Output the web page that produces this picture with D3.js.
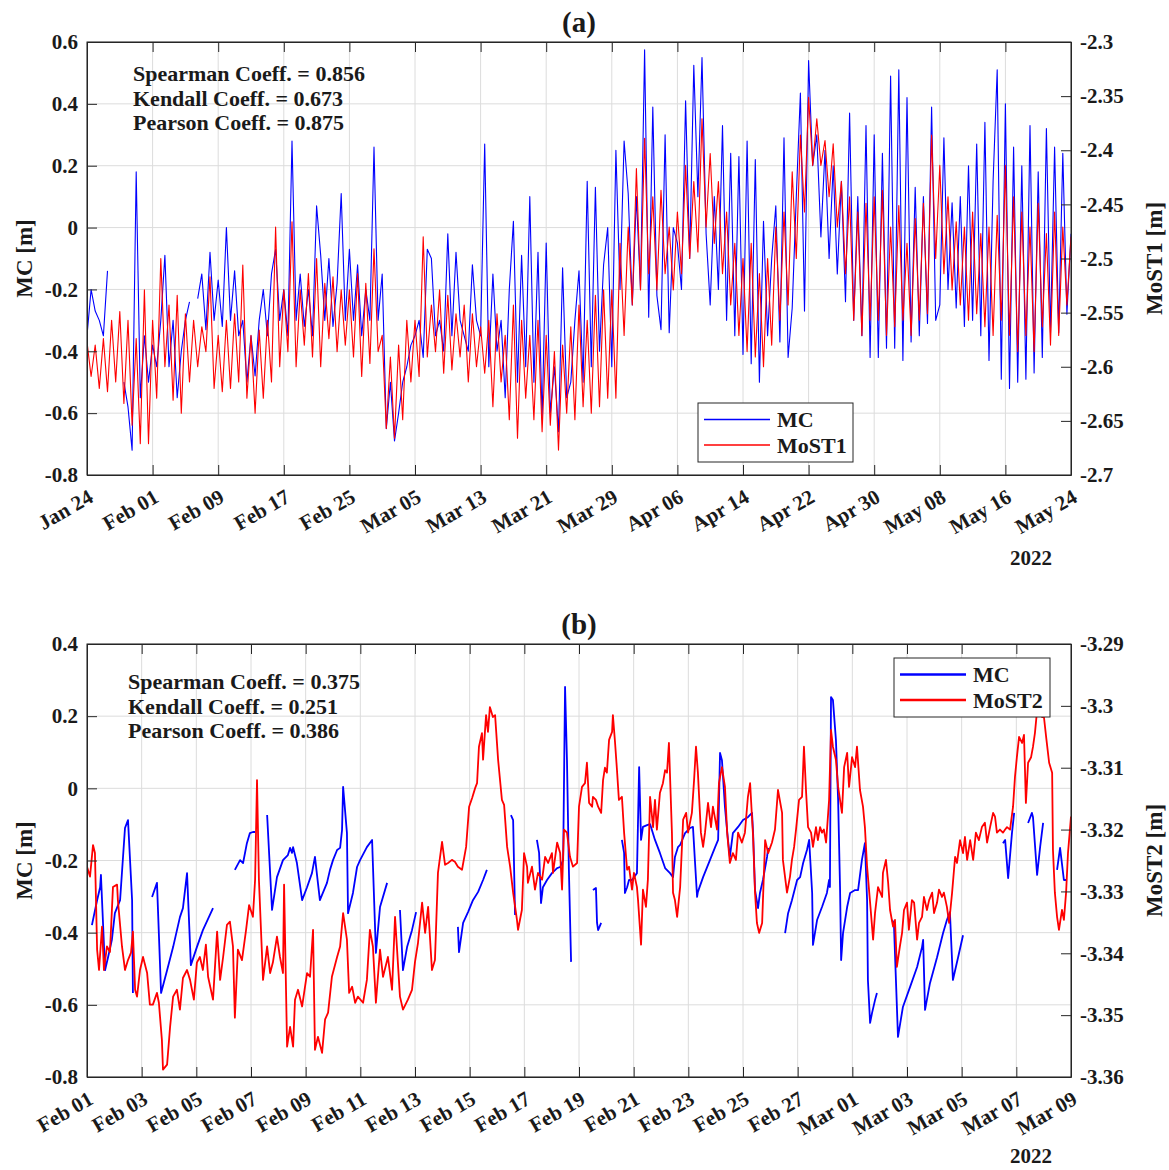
<!DOCTYPE html>
<html>
<head>
<meta charset="utf-8">
<style>
  body { margin: 0; background: #fff; }
  svg { font-family: "Liberation Serif", "Times New Roman", serif; font-weight: bold; }
  .grid line { stroke: #dcdcdc; stroke-width: 1; }
  .axis path, .axis line { stroke: #262626; }
  .axis text { fill: #1a1a1a; font-size: 21px; font-family: "Liberation Serif", serif; font-weight: bold; }
  .lbl { fill: #1a1a1a; }
</style>
</head>
<body>
<svg id="chart" width="1169" height="1170"></svg>
<script src="https://d3js.org/d3.v7.min.js"></script>
<script>
// ---- panel (a): half-day samples starting Jan 24 2022 ----
var startA = "2022-01-24", endA = "2022-05-24";
var stepA = 12; // hours between samples

var mcA = [
  -0.35,-0.2,-0.27,-0.3,-0.35,-0.14,null,null,null,-0.5,-0.58,-0.72,0.18,-0.55,-0.35,-0.5,
  -0.38,-0.45,-0.3,-0.09,-0.45,-0.3,-0.55,-0.4,-0.3,-0.24,null,-0.23,-0.15,-0.33,-0.08,-0.3,
  -0.17,-0.32,0.0,-0.3,-0.14,-0.35,-0.3,-0.5,-0.35,-0.48,-0.3,-0.2,-0.35,-0.15,-0.07,-0.3,
  -0.2,-0.35,0.28,-0.3,-0.15,-0.32,-0.2,-0.35,0.07,-0.09,-0.3,-0.1,-0.32,-0.18,0.11,-0.3,
  -0.07,-0.3,-0.12,-0.35,-0.2,-0.3,0.26,-0.3,-0.15,-0.65,-0.5,-0.69,-0.6,-0.5,-0.45,-0.38,
  -0.35,-0.3,-0.42,-0.07,-0.1,-0.35,-0.3,-0.4,-0.02,-0.35,-0.08,-0.3,-0.35,-0.4,-0.12,-0.3,
  -0.35,0.27,-0.45,-0.15,-0.4,-0.3,-0.55,-0.2,0.02,-0.5,-0.09,-0.45,0.1,-0.5,-0.08,-0.62,
  -0.05,-0.6,-0.45,-0.66,-0.13,-0.55,-0.5,-0.3,-0.14,-0.5,0.15,-0.45,0.13,-0.4,-0.12,0.0,
  -0.45,0.25,-0.2,0.28,0.11,-0.25,0.1,-0.2,0.575,-0.29,0.39,-0.22,-0.33,0.3,-0.34,0.0,
  -0.05,-0.2,0.41,-0.1,0.525,0.1,0.55,-0.02,-0.25,0.1,-0.2,0.33,-0.3,0.24,-0.35,0.23,
  -0.41,0.28,-0.44,0.22,-0.5,0.02,-0.35,-0.1,0.07,-0.37,0.29,-0.42,-0.26,0.1,0.435,-0.27,
  0.54,0.2,0.3,-0.03,0.25,-0.1,0.2,-0.15,0.15,-0.24,0.37,-0.3,0.1,-0.35,0.33,-0.42,
  0.3,-0.42,0.24,-0.39,0.49,-0.39,0.51,-0.43,0.42,-0.37,0.13,-0.35,0.1,-0.31,0.39,-0.3,
  -0.25,0.29,-0.2,0.08,-0.26,0.1,-0.32,0.2,-0.3,0.27,-0.35,0.34,-0.43,0.15,0.51,-0.49,
  0.4,-0.52,0.26,-0.5,0.2,-0.49,0.33,-0.47,0.18,-0.42,0.32,-0.34,0.26,-0.34,0.24,-0.28,
  -0.02
];

var most1 = [
  -2.577,-2.609,-2.580,-2.620,-2.574,-2.623,-2.557,-2.614,-2.549,-2.634,-2.557,-2.654,-2.574,-2.671,-2.529,-2.671,
  -2.557,-2.629,-2.500,-2.600,-2.543,-2.631,-2.534,-2.643,-2.551,-2.614,-2.557,-2.600,-2.563,-2.586,-2.517,-2.620,
  -2.571,-2.623,-2.557,-2.620,-2.551,-2.614,-2.506,-2.629,-2.571,-2.643,-2.566,-2.629,-2.557,-2.614,-2.471,-2.600,
  -2.529,-2.586,-2.466,-2.600,-2.529,-2.580,-2.514,-2.591,-2.500,-2.600,-2.523,-2.574,-2.517,-2.586,-2.529,-2.580,
  -2.529,-2.591,-2.514,-2.609,-2.523,-2.597,-2.491,-2.586,-2.571,-2.657,-2.591,-2.666,-2.580,-2.649,-2.557,-2.614,
  -2.557,-2.609,-2.480,-2.591,-2.543,-2.586,-2.529,-2.606,-2.534,-2.603,-2.551,-2.591,-2.543,-2.614,-2.551,-2.600,
  -2.563,-2.606,-2.557,-2.637,-2.551,-2.614,-2.571,-2.649,-2.543,-2.666,-2.557,-2.629,-2.571,-2.649,-2.557,-2.660,
  -2.571,-2.654,-2.586,-2.677,-2.580,-2.643,-2.563,-2.649,-2.543,-2.637,-2.557,-2.643,-2.534,-2.637,-2.529,-2.629,
  -2.529,-2.629,-2.486,-2.571,-2.471,-2.543,-2.417,-2.529,-2.389,-2.514,-2.443,-2.529,-2.437,-2.514,-2.471,-2.529,
  -2.457,-2.514,-2.414,-2.500,-2.429,-2.494,-2.371,-2.471,-2.403,-2.486,-2.429,-2.514,-2.457,-2.543,-2.486,-2.571,
  -2.500,-2.586,-2.486,-2.591,-2.514,-2.600,-2.500,-2.580,-2.471,-2.557,-2.457,-2.543,-2.420,-2.500,-2.386,-2.457,
  -2.351,-2.414,-2.371,-2.414,-2.391,-2.443,-2.394,-2.471,-2.429,-2.514,-2.443,-2.557,-2.457,-2.571,-2.449,-2.557,
  -2.443,-2.557,-2.437,-2.571,-2.471,-2.563,-2.451,-2.557,-2.486,-2.571,-2.463,-2.557,-2.449,-2.551,-2.386,-2.500,
  -2.414,-2.514,-2.443,-2.529,-2.466,-2.543,-2.471,-2.557,-2.457,-2.551,-2.477,-2.563,-2.471,-2.571,-2.460,-2.557,
  -2.414,-2.571,-2.443,-2.586,-2.457,-2.571,-2.471,-2.586,-2.449,-2.563,-2.477,-2.580,-2.457,-2.571,-2.471,-2.543,
  -2.480
];

var ticksA = ["2022-01-24","2022-02-01","2022-02-09","2022-02-17","2022-02-25","2022-03-05","2022-03-13","2022-03-21",
              "2022-03-29","2022-04-06","2022-04-14","2022-04-22","2022-04-30","2022-05-08","2022-05-16","2022-05-24"];
var leftTicksA = [0.6, 0.4, 0.2, 0, -0.2, -0.4, -0.6, -0.8];
var rightTicksA = [-2.3, -2.35, -2.4, -2.45, -2.5, -2.55, -2.6, -2.65, -2.7];
var statsA = ["Spearman Coeff. = 0.856", "Kendall Coeff. = 0.673", "Pearson Coeff. = 0.875"];

// ---- panel (b): [days since Feb 01 2022, value], null = gap ----
var startB = "2022-02-01", endB = "2022-03-09";

var mcB = [
  [0.18,-0.379],[0.37,-0.310],[0.48,-0.274],[0.51,-0.240],[0.66,-0.504],[0.77,-0.468],[0.91,-0.420],[1.02,-0.346],
  [1.21,-0.310],[1.39,-0.110],[1.50,-0.088],[1.65,-0.310],[1.68,-0.567],
  null,
  [2.38,-0.301],[2.56,-0.262],[2.71,-0.567],[2.93,-0.504],[3.15,-0.440],[3.40,-0.357],[3.51,-0.332],[3.66,-0.235],
  [3.80,-0.490],[4.02,-0.440],[4.24,-0.393],[4.61,-0.332],
  null,
  [5.41,-0.226],[5.60,-0.199],[5.71,-0.207],[5.85,-0.152],[5.96,-0.124],[6.07,-0.121],[6.15,-0.121],
  null,
  [6.59,-0.074],[6.77,-0.337],[6.95,-0.246],[7.17,-0.199],[7.35,-0.185],[7.43,-0.165],[7.50,-0.179],[7.54,-0.163],
  [7.68,-0.207],[7.87,-0.310],[8.05,-0.274],[8.23,-0.235],[8.34,-0.190],[8.52,-0.310],[8.78,-0.262],[8.89,-0.226],
  [9.00,-0.199],[9.15,-0.171],[9.26,-0.165],[9.33,-0.116],[9.37,0.004],[9.51,-0.124],[9.55,-0.346],[9.73,-0.290],
  [9.88,-0.218],[9.99,-0.199],[10.24,-0.163],[10.43,-0.143],[10.57,-0.456],[10.72,-0.329],[10.98,-0.262],
  null,
  [11.45,-0.337],[11.56,-0.504],[11.71,-0.440],[11.89,-0.393],[12.04,-0.343],
  null,
  [13.57,-0.384],[13.61,-0.454],[13.76,-0.373],[13.94,-0.343],[14.12,-0.310],[14.31,-0.287],[14.49,-0.254],[14.63,-0.226],
  null,
  [15.51,-0.074],[15.59,-0.088],[15.66,-0.351],
  null,
  [16.46,-0.143],[16.54,-0.179],[16.61,-0.318],[16.68,-0.274],[16.83,-0.254],[17.01,-0.235],[17.20,-0.221],[17.31,-0.218],
  [17.42,-0.199],[17.49,0.281],[17.56,0.078],[17.63,-0.226],[17.71,-0.481],
  null,
  [18.51,-0.282],[18.62,-0.276],[18.66,-0.373],[18.70,-0.393],[18.81,-0.373],
  null,
  [19.57,-0.143],[19.65,-0.179],[19.68,-0.290],[19.76,-0.274],[19.83,-0.254],[19.94,-0.254],[20.12,-0.235],[20.20,0.059],
  [20.27,-0.143],[20.34,-0.107],[20.49,-0.102],[20.60,-0.099],[20.78,-0.143],[20.96,-0.179],[21.15,-0.221],[21.33,-0.235],
  [21.44,-0.246],[21.51,-0.190],[21.62,-0.163],[21.70,-0.157],[21.88,-0.124],[22.06,-0.110],[22.17,-0.107],[22.24,-0.199],
  [22.32,-0.301],[22.35,-0.287],[22.54,-0.246],[22.79,-0.199],[22.98,-0.163],[23.09,-0.143],[23.16,0.098],[23.23,0.078],
  [23.34,-0.052],[23.45,-0.143],[23.52,-0.190],[23.63,-0.124],[23.82,-0.107],[24.00,-0.088],[24.18,-0.080],[24.33,-0.068],
  [24.37,-0.124],[24.44,-0.282],[24.55,-0.332],[24.62,-0.290],[24.73,-0.254],[24.88,-0.190],[24.92,-0.165],
  null,
  [25.54,-0.401],[25.65,-0.346],[25.79,-0.310],[25.98,-0.254],[26.09,-0.246],[26.20,-0.207],[26.34,-0.171],[26.42,-0.143],
  [26.53,-0.290],[26.56,-0.434],[26.71,-0.365],[26.89,-0.329],[27.07,-0.290],[27.15,-0.254],[27.18,-0.274],[27.22,0.253],
  [27.29,0.245],[27.40,0.134],[27.48,-0.032],[27.55,-0.274],[27.59,-0.476],[27.66,-0.401],[27.81,-0.329],[27.92,-0.290],
  [28.10,-0.282],[28.21,-0.282],[28.35,-0.199],[28.46,-0.152],[28.54,-0.310],[28.57,-0.531],[28.65,-0.650],[28.72,-0.623],
  [28.83,-0.587],[28.90,-0.567],
  null,
  [29.45,-0.365],[29.52,-0.373],[29.67,-0.689],[29.85,-0.606],[30.11,-0.551],[30.37,-0.495],[30.55,-0.440],[30.59,-0.420],
  [30.66,-0.614],[30.84,-0.540],[31.10,-0.468],[31.32,-0.401],[31.46,-0.365],[31.57,-0.343],[31.68,-0.531],[31.87,-0.468],
  [32.05,-0.407],
  null,
  [33.51,-0.152],[33.59,-0.143],[33.70,-0.249],[33.84,-0.124],[33.92,-0.068],
  null,
  [34.43,-0.096],[34.57,-0.068],[34.61,-0.080],[34.76,-0.240],[34.87,-0.163],[34.98,-0.096],
  null,
  [35.49,-0.226],[35.60,-0.165],[35.74,-0.254],[35.82,-0.254]
];

var most2 = [
  [0,-3.3260],[0.11,-3.3276],[0.22,-3.3225],[0.29,-3.3238],[0.37,-3.3394],[0.44,-3.3427],[0.55,-3.3357],[0.62,-3.3427],
  [0.73,-3.3389],[0.84,-3.3398],[0.95,-3.3293],[1.10,-3.3289],[1.13,-3.3314],[1.28,-3.3389],[1.39,-3.3427],[1.50,-3.3411],
  [1.61,-3.3399],[1.68,-3.3365],[1.76,-3.3459],[1.83,-3.3470],[1.94,-3.3427],[2.05,-3.3406],[2.20,-3.3432],[2.30,-3.3483],
  [2.41,-3.3483],[2.56,-3.3464],[2.63,-3.3480],[2.74,-3.3540],[2.78,-3.3588],[2.93,-3.3580],[3.04,-3.3519],[3.15,-3.3470],
  [3.29,-3.3459],[3.40,-3.3491],[3.51,-3.3440],[3.66,-3.3427],[3.77,-3.3443],[3.91,-3.3475],[4.02,-3.3415],[4.13,-3.3406],
  [4.24,-3.3427],[4.35,-3.3386],[4.43,-3.3438],[4.61,-3.3475],[4.76,-3.3365],[4.87,-3.3443],[4.98,-3.3406],[5.12,-3.3354],
  [5.23,-3.3349],[5.34,-3.3389],[5.41,-3.3504],[5.52,-3.3394],[5.67,-3.3411],[5.82,-3.3362],[5.93,-3.3322],[6.07,-3.3341],
  [6.15,-3.3281],[6.22,-3.3120],[6.29,-3.3281],[6.44,-3.3443],[6.59,-3.3389],[6.70,-3.3432],[6.80,-3.3415],[6.95,-3.3373],
  [7.06,-3.3406],[7.17,-3.3432],[7.21,-3.3289],[7.32,-3.3551],[7.43,-3.3519],[7.54,-3.3551],[7.61,-3.3475],[7.72,-3.3459],
  [7.87,-3.3486],[8.05,-3.3432],[8.16,-3.3438],[8.27,-3.3362],[8.34,-3.3556],[8.45,-3.3535],[8.60,-3.3561],[8.71,-3.3507],
  [8.82,-3.3496],[8.96,-3.3438],[9.15,-3.3406],[9.26,-3.3389],[9.37,-3.3335],[9.51,-3.3378],[9.59,-3.3464],[9.70,-3.3454],
  [9.81,-3.3480],[9.91,-3.3470],[10.10,-3.3480],[10.24,-3.3443],[10.35,-3.3362],[10.46,-3.3389],[10.57,-3.3480],[10.72,-3.3394],
  [10.83,-3.3438],[11.01,-3.3406],[11.16,-3.3459],[11.27,-3.3341],[11.45,-3.3470],[11.56,-3.3491],[11.74,-3.3475],[11.89,-3.3459],
  [12.00,-3.3414],[12.11,-3.3383],[12.26,-3.3318],[12.37,-3.3367],[12.48,-3.3325],[12.62,-3.3427],[12.73,-3.3411],[12.84,-3.3270],
  [12.99,-3.3220],[13.10,-3.3257],[13.21,-3.3254],[13.35,-3.3249],[13.46,-3.3252],[13.57,-3.3260],[13.72,-3.3265],[13.87,-3.3228],
  [13.98,-3.3163],[14.09,-3.3149],[14.20,-3.3133],[14.27,-3.3125],[14.34,-3.3066],[14.45,-3.3044],[14.49,-3.3087],[14.60,-3.3015],
  [14.67,-3.3042],[14.74,-3.3002],[14.85,-3.3018],[14.93,-3.3015],[15.04,-3.3087],[15.18,-3.3152],[15.26,-3.3160],[15.37,-3.3228],
  [15.48,-3.3260],[15.59,-3.3302],[15.73,-3.3346],[15.77,-3.3362],[15.91,-3.3330],[15.99,-3.3238],[16.10,-3.3260],[16.13,-3.3286],
  [16.28,-3.3260],[16.39,-3.3297],[16.50,-3.3270],[16.65,-3.3281],[16.76,-3.3244],[16.87,-3.3254],[17.01,-3.3238],[17.05,-3.3270],
  [17.20,-3.3221],[17.31,-3.3238],[17.38,-3.3297],[17.45,-3.3200],[17.56,-3.3205],[17.67,-3.3244],[17.78,-3.3260],[17.93,-3.3254],
  [18.00,-3.3163],[18.11,-3.3131],[18.22,-3.3125],[18.29,-3.3092],[18.37,-3.3157],[18.48,-3.3163],[18.51,-3.3147],[18.62,-3.3152],
  [18.70,-3.3163],[18.81,-3.3173],[18.88,-3.3120],[18.95,-3.3100],[19.02,-3.3108],[19.10,-3.3055],[19.21,-3.3042],[19.24,-3.3015],
  [19.32,-3.3060],[19.39,-3.3104],[19.46,-3.3152],[19.57,-3.3147],[19.65,-3.3205],[19.76,-3.3265],[19.83,-3.3260],[19.94,-3.3297],
  [20.01,-3.3270],[20.12,-3.3293],[20.16,-3.3314],[20.27,-3.3386],[20.34,-3.3297],[20.45,-3.3325],[20.52,-3.3281],[20.60,-3.3147],
  [20.71,-3.3196],[20.78,-3.3152],[20.85,-3.3200],[20.96,-3.3141],[21.07,-3.3125],[21.15,-3.3104],[21.22,-3.3108],[21.29,-3.3060],
  [21.40,-3.3205],[21.44,-3.3302],[21.51,-3.3314],[21.59,-3.3341],[21.70,-3.3293],[21.81,-3.3184],[21.92,-3.3173],[21.99,-3.3205],
  [22.13,-3.3173],[22.21,-3.3120],[22.28,-3.3066],[22.35,-3.3108],[22.46,-3.3205],[22.54,-3.3228],[22.61,-3.3205],[22.72,-3.3157],
  [22.83,-3.3196],[22.90,-3.3163],[23.05,-3.3200],[23.12,-3.3125],[23.23,-3.3099],[23.34,-3.3131],[23.42,-3.3205],[23.52,-3.3254],
  [23.63,-3.3238],[23.74,-3.3249],[23.82,-3.3205],[23.96,-3.3221],[24.07,-3.3205],[24.18,-3.3147],[24.26,-3.3125],[24.37,-3.3212],
  [24.44,-3.3302],[24.51,-3.3351],[24.59,-3.3367],[24.70,-3.3351],[24.73,-3.3314],[24.81,-3.3217],[24.92,-3.3238],[25.06,-3.3221],
  [25.17,-3.3200],[25.28,-3.3136],[25.43,-3.3173],[25.46,-3.3249],[25.61,-3.3302],[25.72,-3.3276],[25.79,-3.3249],[25.87,-3.3228],
  [25.94,-3.3200],[26.05,-3.3152],[26.16,-3.3147],[26.23,-3.3066],[26.31,-3.3141],[26.38,-3.3196],[26.49,-3.3205],[26.56,-3.3228],
  [26.67,-3.3196],[26.74,-3.3217],[26.82,-3.3196],[26.89,-3.3205],[26.96,-3.3200],[27.04,-3.3221],[27.15,-3.3152],[27.22,-3.3039],
  [27.29,-3.3066],[27.40,-3.3087],[27.48,-3.3131],[27.62,-3.3173],[27.70,-3.3099],[27.81,-3.3076],[27.88,-3.3131],[27.99,-3.3083],
  [28.10,-3.3099],[28.17,-3.3066],[28.28,-3.3136],[28.39,-3.3163],[28.46,-3.3196],[28.54,-3.3260],[28.65,-3.3318],[28.76,-3.3378],
  [28.83,-3.3335],[28.94,-3.3293],[29.09,-3.3309],[29.12,-3.3270],[29.23,-3.3249],[29.31,-3.3286],[29.38,-3.3330],[29.49,-3.3357],
  [29.56,-3.3346],[29.63,-3.3422],[29.74,-3.3389],[29.82,-3.3367],[29.89,-3.3330],[30.00,-3.3318],[30.07,-3.3362],[30.18,-3.3314],
  [30.26,-3.3318],[30.37,-3.3378],[30.44,-3.3351],[30.55,-3.3341],[30.62,-3.3309],[30.73,-3.3330],[30.81,-3.3314],[30.92,-3.3302],
  [30.99,-3.3335],[31.10,-3.3318],[31.17,-3.3297],[31.28,-3.3309],[31.35,-3.3302],[31.46,-3.3325],[31.54,-3.3351],[31.65,-3.3302],
  [31.76,-3.3244],[31.83,-3.3254],[31.94,-3.3217],[32.05,-3.3238],[32.12,-3.3212],[32.20,-3.3249],[32.31,-3.3217],[32.42,-3.3249],
  [32.52,-3.3205],[32.63,-3.3217],[32.74,-3.3196],[32.85,-3.3189],[32.93,-3.3221],[33.04,-3.3196],[33.15,-3.3173],[33.22,-3.3179],
  [33.29,-3.3205],[33.40,-3.3200],[33.51,-3.3205],[33.59,-3.3200],[33.66,-3.3196],[33.77,-3.3200],[33.88,-3.3163],[33.95,-3.3115],
  [34.02,-3.3083],[34.10,-3.3050],[34.21,-3.3060],[34.28,-3.3047],[34.35,-3.3157],[34.43,-3.3092],[34.54,-3.3083],[34.61,-3.3066],
  [34.68,-3.3044],[34.76,-3.3007],[34.83,-3.2990],[34.94,-3.3018],[35.01,-3.3018],[35.09,-3.3050],[35.20,-3.3092],[35.31,-3.3108],
  [35.34,-3.3233],[35.41,-3.3302],[35.49,-3.3341],[35.56,-3.3362],[35.67,-3.3330],[35.74,-3.3346],[35.82,-3.3302],[35.89,-3.3238],
  [36.00,-3.3179]
];

var ticksB = ["2022-02-01","2022-02-03","2022-02-05","2022-02-07","2022-02-09","2022-02-11","2022-02-13","2022-02-15",
              "2022-02-17","2022-02-19","2022-02-21","2022-02-23","2022-02-25","2022-02-27","2022-03-01","2022-03-03",
              "2022-03-05","2022-03-07","2022-03-09"];
var leftTicksB = [0.4, 0.2, 0, -0.2, -0.4, -0.6, -0.8];
var rightTicksB = [-3.29, -3.3, -3.31, -3.32, -3.33, -3.34, -3.35, -3.36];
var statsB = ["Spearman Coeff. = 0.375", "Kendall Coeff. = 0.251", "Pearson Coeff. = 0.386"];

// ---- drawing ----
var svg = d3.select("#chart");
var parse = d3.utcParse("%Y-%m-%d");
var fmtTick = d3.utcFormat("%b %d");
var num = function(d){ return String(+d.toFixed(3)); };
var left = 87, right = 1071;

function panel(cfg) {
  var g = svg.append("g");
  var x = d3.scaleUtc().domain([parse(cfg.start), parse(cfg.end)]).range([left, right]);
  var yL = d3.scaleLinear().domain([cfg.leftTicks[cfg.leftTicks.length - 1], cfg.leftTicks[0]]).range([cfg.bottom, cfg.top]);
  var yR = d3.scaleLinear().domain([cfg.rightTicks[cfg.rightTicks.length - 1], cfg.rightTicks[0]]).range([cfg.bottom, cfg.top]);
  var xt = cfg.xTicks.map(parse);

  g.append("g").attr("class", "grid").selectAll("line").data(xt).join("line")
      .attr("x1", x).attr("x2", x).attr("y1", cfg.top).attr("y2", cfg.bottom);
  g.append("g").attr("class", "grid").selectAll("line").data(cfg.leftTicks).join("line")
      .attr("x1", left).attr("x2", right).attr("y1", yL).attr("y2", yL);

  g.append("clipPath").attr("id", cfg.id + "-clip")
    .append("rect").attr("x", left).attr("y", cfg.top)
      .attr("width", right - left).attr("height", cfg.bottom - cfg.top);

  var plot = g.append("g").attr("clip-path", "url(#" + cfg.id + "-clip)");
  var lineL = d3.line().defined(function(d){ return d.v != null; })
      .x(function(d){ return x(d.t); }).y(function(d){ return yL(d.v); });
  var lineR = d3.line().defined(function(d){ return d.v != null; })
      .x(function(d){ return x(d.t); }).y(function(d){ return yR(d.v); });

  plot.append("path").datum(cfg.mc).attr("d", lineL)
      .attr("fill", "none").attr("stroke", "#0000ff").attr("stroke-width", cfg.lw).attr("stroke-linejoin", "round");
  plot.append("path").datum(cfg.most).attr("d", lineR)
      .attr("fill", "none").attr("stroke", "#ff0000").attr("stroke-width", cfg.lw).attr("stroke-linejoin", "round");

  g.append("rect").attr("x", left).attr("y", cfg.top)
      .attr("width", right - left).attr("height", cfg.bottom - cfg.top)
      .attr("fill", "none").attr("stroke", "#262626");

  var bx = g.append("g").attr("class", "axis").attr("transform", "translate(0," + cfg.bottom + ")")
      .call(d3.axisBottom(x).tickValues(xt).tickSizeInner(-10).tickSizeOuter(0).tickFormat(fmtTick));
  bx.selectAll("text").attr("y", 0).attr("dy", 0).attr("text-anchor", "end")
      .attr("transform", "translate(7," + cfg.labelDrop + ") rotate(-30)");
  g.append("g").attr("class", "axis").attr("transform", "translate(0," + cfg.top + ")")
      .call(d3.axisTop(x).tickValues(xt).tickSizeInner(-10).tickSizeOuter(0).tickFormat(""));
  g.append("g").attr("class", "axis").attr("transform", "translate(" + left + ",0)")
      .call(d3.axisLeft(yL).tickValues(cfg.leftTicks).tickSizeInner(-10).tickSizeOuter(0).tickPadding(9).tickFormat(num));
  g.append("g").attr("class", "axis").attr("transform", "translate(" + right + ",0)")
      .call(d3.axisRight(yR).tickValues(cfg.rightTicks).tickSizeInner(-10).tickSizeOuter(0).tickPadding(9).tickFormat(num));

  g.append("text").attr("class", "lbl").attr("x", 579).attr("y", cfg.top - 10)
      .attr("text-anchor", "middle").attr("font-size", 29).text(cfg.title);

  g.append("g").selectAll("text").data(cfg.stats).join("text").attr("class", "lbl")
      .attr("x", cfg.statX).attr("y", function(d, i){ return cfg.statY + i * 24.5; })
      .attr("font-size", 22).text(function(d){ return d; });

  var mid = (cfg.top + cfg.bottom) / 2;
  g.append("text").attr("class", "lbl").attr("transform", "translate(32," + mid + ") rotate(-90)")
      .attr("text-anchor", "middle").attr("font-size", 23).text("MC [m]");
  g.append("text").attr("class", "lbl").attr("transform", "translate(1162," + mid + ") rotate(-90)")
      .attr("text-anchor", "middle").attr("font-size", 23).text(cfg.rightLabel);
  g.append("text").attr("class", "lbl").attr("x", 1031).attr("y", cfg.bottom + cfg.yearDrop)
      .attr("text-anchor", "middle").attr("font-size", 21).text("2022");

  var lg = g.append("g").attr("transform", "translate(" + cfg.legend[0] + "," + cfg.legend[1] + ")");
  lg.append("rect").attr("width", cfg.legend[2]).attr("height", 59)
      .attr("fill", "#fff").attr("stroke", "#262626");
  var items = [{name: "MC", color: "#0000ff"}, {name: cfg.rightName, color: "#ff0000"}];
  items.forEach(function(it, i){
    var yy = 16.5 + i * 25.5;
    lg.append("line").attr("x1", 6).attr("x2", 72).attr("y1", yy).attr("y2", yy)
        .attr("stroke", it.color).attr("stroke-width", cfg.lw + 0.5);
    lg.append("text").attr("class", "lbl").attr("x", 79).attr("y", yy + 7.5)
        .attr("font-size", 22).text(it.name);
  });
}

var t0A = parse(startA);
var mcAData = mcA.map(function(v, i){ return {t: d3.utcHour.offset(t0A, i * stepA), v: v}; });
var most1Data = most1.map(function(v, i){ return {t: d3.utcHour.offset(t0A, i * stepA), v: v}; });

var t0B = parse(startB);
var toPt = function(p){ return p ? {t: new Date(+t0B + p[0] * 864e5), v: p[1]} : {t: t0B, v: null}; };

panel({
  id: "pa", start: startA, end: endA, top: 42, bottom: 475,
  xTicks: ticksA, leftTicks: leftTicksA, rightTicks: rightTicksA,
  mc: mcAData, most: most1Data, lw: 1.1,
  title: "(a)", stats: statsA, statX: 133, statY: 81,
  rightLabel: "MoST1 [m]", rightName: "MoST1",
  legend: [698, 403, 155], labelDrop: 26, yearDrop: 90
});

panel({
  id: "pb", start: startB, end: endB, top: 644, bottom: 1077,
  xTicks: ticksB, leftTicks: leftTicksB, rightTicks: rightTicksB,
  mc: mcB.map(toPt), most: most2.map(toPt), lw: 1.8,
  title: "(b)", stats: statsB, statX: 128, statY: 689,
  rightLabel: "MoST2 [m]", rightName: "MoST2",
  legend: [894, 658, 156], labelDrop: 26, yearDrop: 86
});
</script>
</body>
</html>
